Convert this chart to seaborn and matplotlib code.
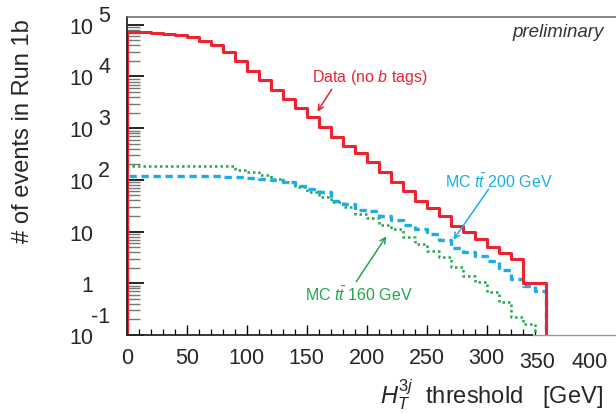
import numpy as np
import pandas as pd
import seaborn as sns
import matplotlib.pyplot as plt
from matplotlib.ticker import FixedLocator, LogLocator, NullFormatter
import matplotlib.transforms as mtransforms

# 히스토그램 값
data_edges = list(range(0, 340, 10)) + [350]
data_counts = [73600, 73600, 70300, 67300, 63500, 57300, 49200, 40600, 29400, 19700,
               12900, 8550, 5480, 3670, 2430, 1650, 1055, 676, 459, 331,
               219, 140, 90, 60, 39.6, 28.2, 20.3, 13.0, 9.96, 7.19,
               5.04, 3.93, 3.01, 1.0]

mc200_edges = list(range(0, 360, 10))
mc200_counts = [120, 120, 120, 120, 120, 120, 119, 117, 115, 112,
                108, 104, 99.6, 90, 77, 66.7, 57.5, 39.6, 34.2, 26.2,
                25.4, 20.3, 17.0, 13.4, 11.2, 9.0, 7.0, 4.75, 3.98, 3.33,
                2.74, 1.83, 1.21, 0.90, 0.72]

mc160_edges = list(range(0, 350, 10))
mc160_counts = [183, 183, 183, 183, 183, 183, 183, 183, 183, 157,
                144, 124, 106, 90, 74.5, 59, 47.3, 36.9, 29.5, 21.9,
                18.1, 13.4, 11.2, 7.76, 5.76, 4.27, 3.18, 2.04, 1.40, 1.04,
                0.67, 0.43, 0.22, 0.163]

x_ticks = [0, 50, 100, 150, 200, 250, 300]
y_ticks = [0.1, 1, 10, 100, 1000, 10000, 100000]
y_ticklabels = ['10', '1', '10', '10', '10', '10', '10']
y_exponents = {0.1: '-1', 100: '2', 1000: '3', 10000: '4', 100000: '5'}

sns.set_style('ticks')
plt.rcParams['font.family'] = ['Liberation Sans', 'DejaVu Sans']
plt.rcParams['mathtext.fontset'] = 'custom'
plt.rcParams['mathtext.rm'] = 'Liberation Sans'
plt.rcParams['mathtext.it'] = 'Liberation Sans:italic'
plt.rcParams['mathtext.bf'] = 'Liberation Sans:bold'

RED = '#ee2230'
BLUE = '#1aaee8'
GREEN = '#22a650'
FLOOR = 1e-3


def step_frame(edges, counts):
    # 0 에서 올라가고 마지막 bin 끝에서 내려가는 계단선
    xs = [edges[0]] + list(edges) + [edges[-1]]
    ys = [FLOOR] + list(counts) + [counts[-1], FLOOR]
    return pd.DataFrame({'x': xs, 'y': ys})


fig = plt.figure(figsize=(6.16, 4.14), dpi=100)
ax = fig.add_axes([127 / 616, 78 / 414, 489 / 616, 318 / 414])

sns.lineplot(data=step_frame(mc160_edges, mc160_counts), x='x', y='y', ax=ax,
             estimator=None, sort=False, drawstyle='steps-post',
             color=GREEN, linewidth=1.8, linestyle=(0, (1, 1.2)))
sns.lineplot(data=step_frame(mc200_edges, mc200_counts), x='x', y='y', ax=ax,
             estimator=None, sort=False, drawstyle='steps-post',
             color=BLUE, linewidth=2.4, linestyle=(0, (2.2, 1.4)))
sns.lineplot(data=step_frame(data_edges, data_counts), x='x', y='y', ax=ax,
             estimator=None, sort=False, drawstyle='steps-post',
             color=RED, linewidth=2.2)

ax.set_yscale('log')
ax.set_xlim(0, 408)
ax.set_ylim(0.1, 1.415e5)
ax.set_xlabel('')
ax.set_ylabel('')

ax.set_xticks(x_ticks)
ax.set_xticklabels([str(t) for t in x_ticks])
ax.xaxis.set_minor_locator(FixedLocator(list(range(0, 345, 10))))
ax.set_yticks(y_ticks)
ax.set_yticklabels(y_ticklabels)
ax.yaxis.set_minor_locator(LogLocator(base=10, subs=np.arange(2, 10)))
ax.yaxis.set_minor_formatter(NullFormatter())

ax.tick_params(axis='x', which='both', direction='in', labelsize=15.5, pad=9)
ax.tick_params(axis='y', which='both', direction='in', labelsize=15.5, pad=24)
ax.tick_params(axis='y', which='major', length=12, width=1.2, color='black')
ax.tick_params(axis='y', which='minor', length=9, width=1.0, color='#777777')
ax.tick_params(axis='x', which='major', length=7, width=1.0, color='black')
ax.tick_params(axis='x', which='minor', length=4, width=0.9, color='black')

# 지수 부분 (10 옆 위첨자)
for val, exp in y_exponents.items():
    rise = 13 if val == 0.1 else 7
    ax.annotate(exp, xy=(0, val), xycoords=('axes fraction', 'data'),
                xytext=(-12, rise), textcoords='offset points',
                ha='right', va='center', fontsize=15.5)

ax.spines['right'].set_visible(False)
ax.spines['left'].set_linewidth(1.3)
ax.spines['bottom'].set_linewidth(1.3)
ax.spines['bottom'].set_bounds(0, 338)
ax.spines['top'].set_color('#666666')
ax.spines['top'].set_linewidth(1.1)
ax.axhline(0.1, xmin=338 / 408, xmax=1, color='#999999', linewidth=1.0, clip_on=False)

# 오른쪽 tick label 두 개 (그림 위치 그대로)
trans = mtransforms.blended_transform_factory(ax.transData, ax.transAxes)
ax.text(342, -0.05, '350', transform=trans, ha='center', va='top', fontsize=15.5)
ax.text(386, -0.05, '400', transform=trans, ha='center', va='top', fontsize=15.5)

fig.text(23 / 616, 1 - 131 / 414, '# of events in Run 1b', rotation=90,
         ha='center', va='center', fontsize=17)
fig.text(491 / 616, 1 - 395 / 414, r'$H_T^{3j}$  threshold   [GeV]',
         ha='center', va='center', fontsize=17)

ax.text(0.975, 0.955, 'preliminary', transform=ax.transAxes, ha='right', va='center',
        fontsize=13.5, style='italic', color='#333333')

ax.text(154, 1.02e4, r'Data (no $b$ tags)', color=RED, fontsize=11.5, va='center')
ax.annotate('', xy=(157.6, 1885), xytext=(172, 6270),
            arrowprops=dict(arrowstyle='->', color=RED, lw=1.1))

ax.text(265, 95, r'MC $t\bar{t}$ 200 GeV', color=BLUE, fontsize=11.5, va='center')
ax.annotate('', xy=(271, 6.3), xytext=(303, 73),
            arrowprops=dict(arrowstyle='->', color=BLUE, lw=1.1))

ax.text(148.5, 0.62, r'MC $t\bar{t}$ 160 GeV', color=GREEN, fontsize=11.5, va='center')
ax.annotate('', xy=(217.7, 9.0), xytext=(190, 0.97),
            arrowprops=dict(arrowstyle='->', color=GREEN, lw=1.1))

fig.savefig('out.png', dpi=100)
